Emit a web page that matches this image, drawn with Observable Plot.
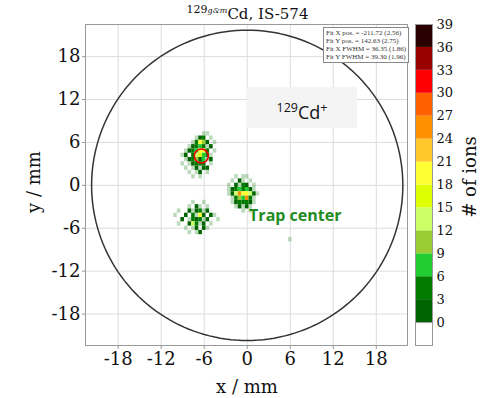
<!DOCTYPE html>
<html><head><meta charset="utf-8">
<script src="https://cdn.jsdelivr.net/npm/d3@7"></script>
<script src="https://cdn.jsdelivr.net/npm/@observablehq/plot@0.6"></script>
<style>
body{margin:0;background:#fff;}
#wrap{position:relative;width:495px;height:398px;overflow:hidden;font-family:"DejaVu Serif",serif;color:#111;}
.abs{position:absolute;white-space:nowrap;}
</style></head><body>
<div id="wrap">
  <div id="main" class="abs" style="left:0;top:0"></div>
  <div id="cbar" class="abs" style="left:400px;top:0"></div>
  <div id="title" class="abs" style="left:0;width:495px;top:1px;text-align:center;font-size:15px;line-height:18px;"></div>
  <div id="xlab" class="abs" style="left:247px;top:386px;transform:translate(-50%,-50%);font-size:18px;"></div>
  <div id="ylab" class="abs" style="left:33px;top:182px;transform:translate(-50%,-50%) rotate(-90deg);font-size:18px;"></div>
  <div id="zlab" class="abs" style="left:469px;top:177px;transform:translate(-50%,-50%) rotate(-90deg);font-size:18px;"></div>
  <div id="fitbox" class="abs" style="left:323px;top:27px;width:80px;height:32px;border:1px solid #888;background:#fff;padding:1px 2px;font-family:'Liberation Serif',serif;font-size:7px;line-height:8px;color:#333;"></div>
  <div id="ionbox" class="abs" style="left:247px;top:87px;width:110px;height:41px;background:#f4f4f4;text-align:center;font-family:'Open Sans',sans-serif;font-size:18px;line-height:41px;color:#111;"></div>
</div>
<script>
// ---- text ----
const titleMass = "129", titleState = "g&m", titleRest = "Cd, IS-574";
const xLabel = "x / mm", yLabel = "y / mm", zLabel = "# of ions";
const fitLines = ["Fit X pos. = -211.72 (2.56)", "Fit Y pos. = 142.63 (2.75)", "Fit X FWHM = 36.35 (1.86)", "Fit Y FWHM = 39.30 (1.96)"];
const ionMass = "129", ionSym = "Cd", ionCharge = "+";
const trapLabel = "Trap center";

// ---- axes ----
const xTicks = [-18, -12, -6, 0, 6, 12, 18];
const yTicks = [-18, -12, -6, 0, 6, 12, 18];
const xDomain = [-22.55, 22.35];
const yDomain = [-22.4, 22.5];
const cbTicks = [0, 3, 6, 9, 12, 15, 18, 21, 24, 27, 30, 33, 36, 39];
const cbBins = [-3, 0, 3, 6, 9, 12, 15, 18, 21, 24, 27, 30, 33, 36];
const countThresholds = [0, 3, 6, 9, 12, 15, 18, 21, 24, 27, 30, 33, 36];
const countColors = ["#ffffff", "#006400", "#007a00", "#22cc33", "#99cc33", "#ccff66", "#ddff00", "#ffff33", "#ffc72c", "#ff9000", "#ff6000", "#ff0000", "#990000", "#2a0000"];

// ---- MCP circle and fit ----
const mcpRadius = 21.7;
const fitCenter = [[-6.4, 4.1]];
const trapPos = [[6.7, -4.3]];

// ---- hit cells [x mm, y mm, ions] ----
const cluster1 = [
  [-6.5,6.6,2],[-6.0,6.6,4],
  [-7.0,6.0,3],[-6.5,6.0,18],[-6.0,6.0,10],[-5.5,6.0,2],
  [-7.5,5.4,2],[-7.0,5.4,5],[-6.5,5.4,8],[-6.0,5.4,4],[-5.0,5.4,1],
  [-8.0,4.8,1],[-7.5,4.8,4],[-7.0,4.8,6],[-6.5,4.8,19],[-6.0,4.8,20],[-5.5,4.8,3],
  [-8.5,4.2,1],[-7.5,4.2,5],[-7.0,4.2,13],[-6.5,4.2,16],[-6.0,4.2,8],[-5.5,4.2,4],
  [-8.0,3.6,2],[-7.5,3.6,3],[-7.0,3.6,9],[-6.5,3.6,2],[-6.0,3.6,7],[-5.0,3.6,2],
  [-7.5,3.0,2],[-7.0,3.0,4],[-6.5,3.0,3],[-6.0,3.0,3],
  [-7.0,2.4,2],[-6.0,2.4,1],[-5.5,2.4,2],
  [-6.5,1.8,1]
];
const cluster2 = [
  [-1.0,0.6,1],
  [-1.5,0.0,1],[-0.5,0.0,3],[0.0,0.0,2],
  [-2.0,-0.6,1],[-1.5,-0.6,3],[-1.0,-0.6,6],[-0.5,-0.6,5],[0.0,-0.6,7],[0.5,-0.6,2],
  [-2.0,-1.2,2],[-1.5,-1.2,13],[-1.0,-1.2,25],[-0.5,-1.2,19],[0.0,-1.2,20],[0.5,-1.2,12],[1.0,-1.2,1],
  [-1.5,-1.8,4],[-1.0,-1.8,9],[-0.5,-1.8,6],[0.0,-1.8,26],[0.5,-1.8,5],
  [-1.5,-2.4,2],[-1.0,-2.4,3],[-0.5,-2.4,4],[0.0,-2.4,3],[0.5,-2.4,1],
  [-1.0,-3.0,1],[0.0,-3.0,2]
];
const cluster3 = [
  [-7.0,-3.0,1],
  [-8.0,-3.6,1],[-7.0,-3.6,2],[-6.5,-3.6,3],[-5.5,-3.6,1],
  [-8.5,-4.2,1],[-7.5,-4.2,3],[-6.5,-4.2,18],[-6.0,-4.2,2],[-5.0,-4.2,1],
  [-9.0,-4.8,1],[-7.5,-4.8,4],[-7.0,-4.8,2],[-6.5,-4.8,3],[-5.5,-4.8,2],
  [-8.0,-5.4,2],[-7.5,-5.4,12],[-7.0,-5.4,3],[-6.0,-5.4,1],
  [-7.0,-6.0,2],[-6.0,-6.0,1],
  [-6.5,-6.6,1]
];
// isolated single hits (drawn faint)
const sparseHits = [
  [-6.0,7.2],[-5.5,7.2],[-7.0,6.6],[-5.0,6.6],[-4.5,6.0],[-7.5,6.0],[-8.0,5.4],[-5.5,5.4],
  [-8.5,4.8],[-4.5,4.8],[-9.0,4.2],[-5.0,4.2],[-8.5,3.6],[-5.5,3.6],[-8.0,3.0],[-5.0,3.0],[-9.0,3.0],
  [-7.5,2.4],[-6.5,2.4],[-8.5,2.4],[-7.0,1.8],[-5.5,1.8],[-8.0,1.8],[-6.5,1.2],[-7.5,1.2],
  [-0.5,1.2],[0.0,1.2],[-1.5,1.2],[-0.5,0.6],[0.5,0.6],[-2.0,0.6],[-1.0,0.0],[1.0,0.0],[-2.5,0.0],
  [1.0,-0.6],[-2.5,-0.6],[1.5,-1.2],[-2.5,-1.2],[-2.0,-1.8],[1.0,-1.8],[1.0,-2.4],[-2.0,-2.4],
  [-0.5,-3.0],[0.5,-3.0],[-1.5,-3.0],[-0.5,-3.6],[0.5,-3.6],
  [-7.5,-2.4],[-6.0,-2.4],[-8.0,-3.0],[-6.5,-3.0],[-5.5,-3.0],[-9.5,-3.6],[-7.5,-3.6],[-6.0,-3.6],
  [-10.0,-4.2],[-7.0,-4.2],[-4.5,-4.2],[-8.0,-4.8],[-6.0,-4.8],[-4.0,-4.8],[-9.5,-5.4],[-6.5,-5.4],[-5.0,-5.4],
  [-8.5,-6.0],[-7.5,-6.0],[-5.5,-6.0],[-7.0,-6.6],[-8.0,-6.6],
  [6.0,-7.6]
];

// ---- build ----
const cells = [...cluster1, ...cluster2, ...cluster3].map(([x, y, n]) => ({x, y, n}));
const sparse = sparseHits.map(([x, y]) => ({x, y}));
const bw = 0.5, bh = 0.6;
const circlePts = d3.range(0, 361, 2).map(a => ({x: mcpRadius * Math.cos(a * Math.PI / 180), y: mcpRadius * Math.sin(a * Math.PI / 180)}));
const colorScale = {type: "threshold", domain: countThresholds, range: countColors};

const main = Plot.plot({
  width: 410, height: 398,
  marginLeft: 85, marginRight: 3, marginTop: 24, marginBottom: 53,
  style: {fontFamily: "DejaVu Serif, serif", fontSize: "18px", background: "transparent", color: "#111", overflow: "visible"},
  x: {domain: xDomain},
  y: {domain: yDomain},
  color: colorScale,
  marks: [
    Plot.gridX(xTicks, {stroke: "#dcdcdc", strokeOpacity: 1}),
    Plot.gridY(yTicks, {stroke: "#dcdcdc", strokeOpacity: 1}),
    Plot.rect(sparse, {x1: d => d.x - bw / 2, x2: d => d.x + bw / 2, y1: d => d.y - bh / 2, y2: d => d.y + bh / 2, fill: "#2e8b2e", fillOpacity: 0.32}),
    Plot.rect(cells, {x1: d => d.x - bw / 2, x2: d => d.x + bw / 2, y1: d => d.y - bh / 2, y2: d => d.y + bh / 2, fill: "n"}),
    Plot.line(circlePts, {x: "x", y: "y", stroke: "#333", strokeWidth: 1.5}),
    Plot.dot(fitCenter, {x: d => d[0], y: d => d[1], r: 7, stroke: "#ee0000", strokeWidth: 1.6}),
    Plot.text(trapPos, {x: d => d[0], y: d => d[1], text: () => trapLabel, fill: "#228b22", fontFamily: "Open Sans, sans-serif", fontWeight: "bold", fontSize: 16}),
    Plot.frame({stroke: "#999"}),
    Plot.axisX(xTicks, {tickSize: 4, tickPadding: 3, tickFormat: d => String(d), label: null, stroke: "#999"}),
    Plot.axisY(yTicks, {tickSize: 3, tickPadding: 2, tickFormat: d => String(d), label: null, stroke: "#999"})
  ]
});
document.getElementById("main").appendChild(main);

const cbar = Plot.plot({
  width: 95, height: 398,
  marginLeft: 15, marginRight: 63, marginTop: 24, marginBottom: 53,
  style: {fontFamily: "DejaVu Serif, serif", fontSize: "13px", background: "transparent", color: "#111", overflow: "visible"},
  x: {domain: [0, 1], axis: null},
  y: {domain: [-3, 39]},
  color: colorScale,
  marks: [
    Plot.rect(cbBins, {x1: 0, x2: 1, y1: d => d, y2: d => d + 3, fill: d => d}),
    Plot.frame({stroke: "#999"}),
    Plot.ruleY([0], {stroke: "#999"}),
    Plot.axisY(cbTicks, {anchor: "right", tickSize: 0, tickPadding: 4, tickFormat: d => String(d), label: null})
  ]
});
document.getElementById("cbar").appendChild(cbar);

document.getElementById("title").innerHTML = `<sup style="font-size:11px">${titleMass}<i style="font-size:8px">${titleState.replace("&", "&amp;")}</i></sup>${titleRest}`;
document.getElementById("xlab").textContent = xLabel;
document.getElementById("ylab").textContent = yLabel;
document.getElementById("zlab").textContent = zLabel;
document.getElementById("fitbox").innerHTML = fitLines.map(s => `<div>${s}</div>`).join("");
document.getElementById("ionbox").innerHTML = `<sup style="font-size:12.5px">${ionMass}</sup>${ionSym}<sup style="font-size:12.5px">${ionCharge}</sup>`;
</script>
</body></html>
